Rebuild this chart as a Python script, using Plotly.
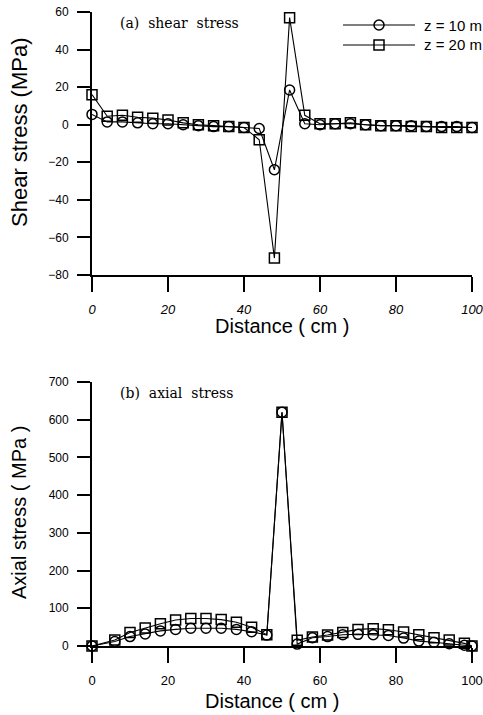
import plotly.graph_objects as go

# ---------------- data ----------------
distance_a = [0, 4, 8, 12, 16, 20, 24, 28, 32, 36, 40, 44, 48, 52, 56, 60, 64, 68, 72, 76, 80, 84, 88, 92, 96, 100]
shear_z10 = [5.5, 1.5, 1.5, 1, 0.5, 0.5, 0, -0.5, -1, -1, -1.5, -2, -24, 18.5, 0.5, 0, 0.5, 0.5, 0, -0.5, -0.5, -0.5, -1, -1, -1, -1.5]
shear_z20 = [16, 4.5, 5, 4, 3.5, 2.5, 1, 0, -0.5, -1, -1.5, -8, -71, 57, 5, 0.5, 0.5, 1, 0, -0.5, -0.5, -1, -1, -1.5, -1.5, -1.5]

distance_b = [0, 6, 10, 14, 18, 22, 26, 30, 34, 38, 42, 46, 50, 54, 58, 62, 66, 70, 74, 78, 82, 86, 90, 94, 98, 100]
axial_z10 = [0, 12, 25, 32, 40, 44, 47, 47, 47, 44, 38, 29, 620, 5, 22, 25, 30, 31, 30, 28, 21, 13, 10, 6, 2, 0]
axial_z20 = [0, 16, 36, 48, 59, 69, 73, 73, 70, 63, 50, 30, 620, 15, 24, 29, 36, 44, 46, 43, 37, 30, 22, 16, 7, 0]

series_names = ["z = 10 m", "z = 20 m"]
x_ticks = [0, 20, 40, 60, 80, 100]
shear_ticks = [-80, -60, -40, -20, 0, 20, 40, 60]
axial_ticks = [0, 100, 200, 300, 400, 500, 600, 700]

W, H = 483, 715
def px(x):
    return x / W
def py(y):
    return 1 - y / H

SANS = "Liberation Sans, Arial, sans-serif"
SERIF = "DejaVu Serif, Liberation Serif, serif"

fig = go.Figure()

line_style = dict(color="black", width=1.1)
m_circle = dict(symbol="circle-open", size=10, color="black", line=dict(width=1.5, color="black"))
m_square = dict(symbol="square-open", size=10, color="black", line=dict(width=1.5, color="black"))

fig.add_trace(go.Scatter(x=distance_a, y=shear_z10, mode="lines+markers", line=line_style,
                         marker=m_circle, name=series_names[0], xaxis="x", yaxis="y", cliponaxis=False))
fig.add_trace(go.Scatter(x=distance_a, y=shear_z20, mode="lines+markers", line=line_style,
                         marker=m_square, name=series_names[1], xaxis="x", yaxis="y", cliponaxis=False))
fig.add_trace(go.Scatter(x=distance_b, y=axial_z10, mode="lines+markers", line=line_style,
                         marker=m_circle, name=series_names[0], xaxis="x2", yaxis="y2", cliponaxis=False))
fig.add_trace(go.Scatter(x=distance_b, y=axial_z20, mode="lines+markers", line=line_style,
                         marker=m_square, name=series_names[1], xaxis="x2", yaxis="y2", cliponaxis=False))

xdom = [px(92), px(472)]
axis_common = dict(showline=True, linecolor="black", linewidth=1.8, ticks="outside",
                   tickcolor="black", tickwidth=1.5, showgrid=False, zeroline=False,
                   automargin=False, ticklabeloverflow="allow")

fig.update_layout(
    width=W, height=H,
    margin=dict(l=0, r=0, t=0, b=0),
    paper_bgcolor="white", plot_bgcolor="white",
    showlegend=False,
    xaxis=dict(domain=xdom, range=[0, 100], tickvals=x_ticks, ticklen=15, anchor="y",
               tickfont=dict(family=SANS, size=13, color="black", style="italic"),
               ticklabelstandoff=6, **axis_common),
    yaxis=dict(domain=[py(275), py(12)], range=[-80, 60], tickvals=shear_ticks, ticklen=13,
               anchor="x", tickfont=dict(family=SANS, size=12, color="black"),
               ticklabelstandoff=6, **axis_common),
    xaxis2=dict(domain=xdom, range=[0, 100], tickvals=x_ticks, ticklen=15, anchor="y2",
                tickfont=dict(family=SANS, size=13, color="black"),
                ticklabelstandoff=6, **axis_common),
    yaxis2=dict(domain=[py(646), py(382)], range=[0, 700], tickvals=axial_ticks, ticklen=13,
                anchor="x2", tickfont=dict(family=SANS, size=12, color="black"),
                ticklabelstandoff=6, **axis_common),
)

annotations = [
    dict(text="Distance ( cm )", x=px(282), y=py(326), font=dict(family=SANS, size=20, color="black")),
    dict(text="Distance ( cm )", x=px(272), y=py(701), font=dict(family=SANS, size=20, color="black")),
    dict(text="Shear stress (MPa)", x=px(19), y=py(132), textangle=-90,
         font=dict(family=SANS, size=22, color="black")),
    dict(text="Axial stress ( MPa )", x=px(19), y=py(513), textangle=-90,
         font=dict(family=SANS, size=20, color="black")),
    dict(text="(a)\u00a0\u00a0shear\u00a0\u00a0stress", x=px(118), y=py(23), xanchor="left",
         font=dict(family=SERIF, size=14, color="black")),
    dict(text="(b)\u00a0\u00a0axial\u00a0\u00a0stress", x=px(118), y=py(393), xanchor="left",
         font=dict(family=SERIF, size=14, color="black")),
    dict(text=series_names[0], x=px(422), y=py(25), xanchor="left",
         font=dict(family=SANS, size=15, color="black")),
    dict(text=series_names[1], x=px(422), y=py(45), xanchor="left",
         font=dict(family=SANS, size=15, color="black")),
]
for a in annotations:
    a.setdefault("xanchor", "center")
    a.update(xref="paper", yref="paper", yanchor="middle", showarrow=False)
fig.update_layout(annotations=annotations)

# manual legend keys
shapes = []
for yy, kind in [(25, "circle"), (45, "rect")]:
    shapes.append(dict(type="line", xref="paper", yref="paper", x0=px(343), x1=px(415),
                       y0=py(yy), y1=py(yy), line=dict(color="black", width=1.1)))
    shapes.append(dict(type=kind, xref="paper", yref="paper", xsizemode="pixel", ysizemode="pixel",
                       xanchor=px(379), yanchor=py(yy), x0=-5, x1=5, y0=-5, y1=5,
                       line=dict(color="black", width=1.5), fillcolor="rgba(0,0,0,0)"))
fig.update_layout(shapes=shapes)

fig.write_html("out.html")
